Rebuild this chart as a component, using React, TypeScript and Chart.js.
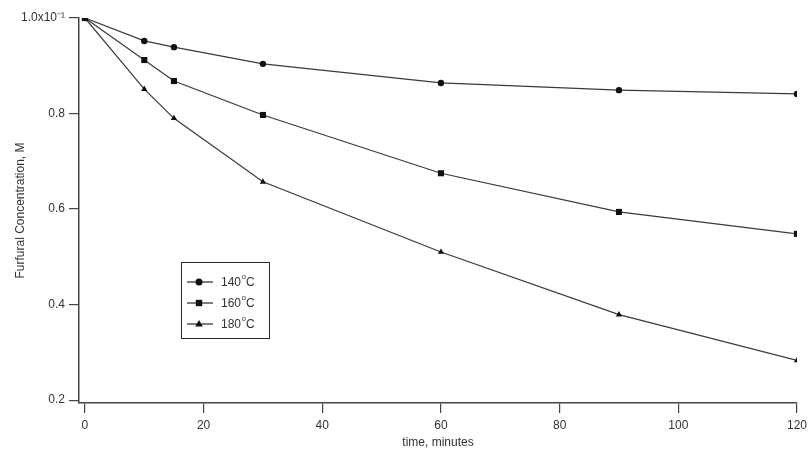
import React, { useEffect, useRef } from 'react';
import { Chart, registerables } from 'chart.js';

Chart.register(...registerables);

// ---- data ----
const timeMinutes = [0, 10, 15, 30, 60, 90, 120];
const temperatures = ['140', '160', '180'];
const conc140 = [1.0, 0.952, 0.939, 0.904, 0.864, 0.849, 0.841];
const conc160 = [1.0, 0.912, 0.868, 0.797, 0.675, 0.594, 0.548];
const conc180 = [1.0, 0.851, 0.79, 0.657, 0.51, 0.379, 0.283];
const xTicks = [0, 20, 40, 60, 80, 100, 120];
const yTicks = [0.2, 0.4, 0.6, 0.8, 1.0];
const pointStyles = ['circle', 'rect', 'triangle'];
const seriesValues = [conc140, conc160, conc180];

const FONT = "'Liberation Sans', Arial, sans-serif";
const INK = '#2a2a2a';

function drawMarker(ctx: CanvasRenderingContext2D, style: string, x: number, y: number) {
  ctx.beginPath();
  if (style === 'circle') {
    ctx.arc(x, y, 3.5, 0, Math.PI * 2);
  } else if (style === 'rect') {
    ctx.rect(x - 3.2, y - 3.2, 6.4, 6.4);
  } else {
    ctx.moveTo(x, y - 4);
    ctx.lineTo(x + 3.8, y + 2.6);
    ctx.lineTo(x - 3.8, y + 2.6);
    ctx.closePath();
  }
  ctx.fill();
}

const boxLegend = {
  id: 'boxLegend',
  afterDatasetsDraw(chart: any) {
    const ctx: CanvasRenderingContext2D = chart.ctx;
    const a = chart.chartArea;
    const x0 = Math.round(a.left + 102);
    const y0 = Math.round(a.top + 244);
    const w = 88;
    const h = 76;
    ctx.save();
    ctx.fillStyle = '#ffffff';
    ctx.fillRect(x0, y0, w, h);
    ctx.strokeStyle = INK;
    ctx.lineWidth = 1;
    ctx.strokeRect(x0 + 0.5, y0 + 0.5, w, h);
    chart.data.datasets.forEach((ds: any, i: number) => {
      const y = y0 + 20 + i * 21;
      ctx.strokeStyle = INK;
      ctx.lineWidth = 1.2;
      ctx.beginPath();
      ctx.moveTo(x0 + 6, y);
      ctx.lineTo(x0 + 32, y);
      ctx.stroke();
      ctx.fillStyle = '#111';
      drawMarker(ctx, pointStyles[i], x0 + 18, y);
      ctx.fillStyle = '#333';
      ctx.textBaseline = 'middle';
      ctx.textAlign = 'left';
      ctx.font = `12px ${FONT}`;
      const t = temperatures[i];
      let tx = x0 + 40;
      ctx.fillText(t, tx, y + 1);
      tx += ctx.measureText(t).width + 0.5;
      ctx.font = `8px ${FONT}`;
      ctx.fillText('o', tx, y - 5);
      tx += ctx.measureText('o').width;
      ctx.font = `12px ${FONT}`;
      ctx.fillText('C', tx, y + 1);
    });
    ctx.restore();
  },
};

export default function App() {
  const ref = useRef<HTMLCanvasElement | null>(null);

  useEffect(() => {
    document.body.style.margin = '0';
    const canvas = ref.current;
    if (!canvas) return;
    const datasets = seriesValues.map((vals, i) => ({
      label: temperatures[i] + '°C',
      data: timeMinutes.map((t, j) => ({ x: t, y: vals[j] })),
      borderColor: '#3a3a3a',
      borderWidth: 1.2,
      backgroundColor: '#111',
      pointBackgroundColor: '#111',
      pointBorderColor: '#111',
      pointStyle: pointStyles[i],
      pointRadius: i === 0 ? 3.2 : i === 1 ? 4.3 : 3.6,
      pointBorderWidth: 0,
      tension: 0,
      fill: false,
    }));
    const chart = new Chart(canvas, {
      type: 'line',
      data: { datasets },
      plugins: [boxLegend],
      options: {
        responsive: false,
        animation: false,
        layout: { padding: { top: 18, right: 15, left: 0, bottom: 0 } },
        plugins: { legend: { display: false }, tooltip: { enabled: false } },
        scales: {
          x: {
            type: 'linear',
            min: -1,
            max: 120,
            afterBuildTicks: (s: any) => {
              s.ticks = xTicks.map((v) => ({ value: v }));
            },
            afterFit: (s: any) => {
              s.height = 47;
            },
            grid: {
              display: true,
              drawOnChartArea: false,
              drawTicks: true,
              tickLength: 10,
              color: '#444',
              lineWidth: 1.2,
            },
            border: { display: true, color: '#444', width: 1.5 },
            ticks: {
              color: '#333',
              font: { family: FONT, size: 12 },
              padding: 5,
              maxRotation: 0,
              callback: (v: any) => String(v),
            },
            title: {
              display: true,
              text: 'time, minutes',
              color: '#333',
              font: { family: FONT, size: 12 },
              padding: { top: 0, bottom: 0 },
            },
          },
          y: {
            type: 'linear',
            min: 0.194,
            max: 1.0,
            afterBuildTicks: (s: any) => {
              s.ticks = yTicks.map((v) => ({ value: v }));
            },
            afterFit: (s: any) => {
              s.width = 79;
            },
            grid: {
              display: true,
              drawOnChartArea: false,
              drawTicks: true,
              tickLength: 10,
              color: '#444',
              lineWidth: 1.2,
            },
            border: { display: true, color: '#444', width: 1.5 },
            ticks: {
              color: '#333',
              font: { family: FONT, size: 12 },
              padding: 4,
              callback: (v: any) => (Math.abs(v - 1) < 1e-9 ? '1.0x10⁻¹' : Number(v).toFixed(1)),
            },
            title: {
              display: true,
              text: 'Furfural Concentration, M',
              color: '#333',
              font: { family: FONT, size: 12 },
              padding: { top: 13, bottom: 0 },
            },
          },
        },
      },
    });
    return () => chart.destroy();
  }, []);

  return (
    <div style={{ position: 'absolute', left: 0, top: 0, width: 812, height: 450, background: '#fff' }}>
      <canvas ref={ref} width={812} height={450} style={{ display: 'block' }} />
    </div>
  );
}
